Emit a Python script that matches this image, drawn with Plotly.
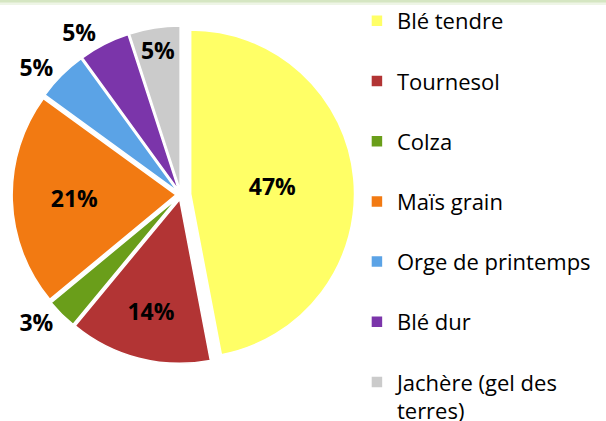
import plotly.graph_objects as go

categories = ["Blé tendre", "Tournesol", "Colza", "Maïs grain",
              "Orge de printemps", "Blé dur", "Jachère (gel des terres)"]
shares = [47, 14, 3, 21, 5, 5, 5]
legend_labels = ["Blé tendre<br> ", "Tournesol<br> ", "Colza<br> ", "Maïs grain<br> ",
                 "Orge de printemps<br> ", "Blé dur<br> ", "Jachère (gel des<br>terres)"]
colors = ["#FFFF66", "#B23434", "#6A9E1A", "#F27A12", "#5BA3E6", "#7B35AA", "#CBCBCB"]
pulls = [0.06, 0.03, 0.03, 0.03, 0.03, 0.03, 0.03]
text_pos = ["inside", "inside", "outside", "inside", "outside", "outside", "inside"]

LABEL_SIZE = 23

fig = go.Figure(go.Pie(
    labels=legend_labels,
    values=shares,
    sort=False,
    direction="clockwise",
    rotation=0,
    pull=pulls,
    marker=dict(colors=colors, line=dict(color="#FFFFFF", width=1.5)),
    texttemplate="%{percent:.0%}",
    textposition=text_pos,
    insidetextorientation="horizontal",
    textfont=dict(family="Open Sans", size=LABEL_SIZE, color="#000000", weight="bold"),
    domain=dict(x=[0.01, 0.587], y=[0.125, 0.95]),
    hoverinfo="label+percent",
))

fig.update_layout(
    width=606, height=421,
    margin=dict(l=0, r=0, t=0, b=0, autoexpand=False),
    paper_bgcolor="#FFFFFF",
    showlegend=True,
    legend=dict(
        xref="container", yref="container",
        x=0.589, y=1.0, xanchor="left", yanchor="top",
        valign="top",
        itemwidth=30,
        maxheight=700,
        font=dict(family="Open Sans", size=22, color="#000000"),
        bgcolor="rgba(0,0,0,0)",
    ),
    uniformtext=dict(minsize=LABEL_SIZE, mode="show"),
    shapes=[
        dict(type="rect", xref="paper", yref="paper",
             x0=0, x1=1, y0=1 - 5 / 421, y1=1,
             fillcolor="#EEF5E6", line=dict(width=0), layer="above"),
        dict(type="rect", xref="paper", yref="paper",
             x0=0, x1=1, y0=1 - 2.5 / 421, y1=1,
             fillcolor="#D5E6C2", line=dict(width=0), layer="above"),
    ],
)

fig.write_html("out.html", config={"displayModeBar": False},
               post_script="document.body.style.margin='0';")
